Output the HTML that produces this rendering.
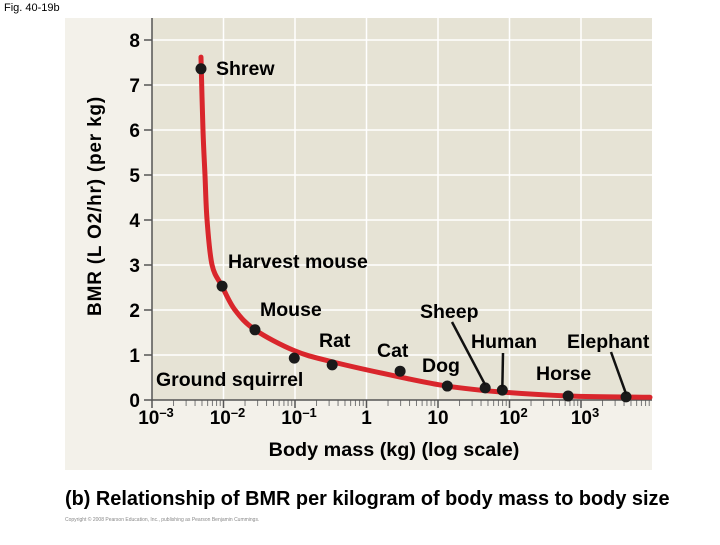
<!DOCTYPE html>
<html><head><meta charset="utf-8"><style>
body{margin:0;background:#fff;width:720px;height:540px;overflow:hidden;font-family:"Liberation Sans",sans-serif}
svg text{font-family:"Liberation Sans",sans-serif}
</style></head><body>
<svg width="720" height="540" viewBox="0 0 720 540">
<text x="4" y="11" font-size="11">Fig. 40-19b</text>
<rect x="65" y="18" width="587" height="452" fill="#f3f1ea"/>
<rect x="152" y="18" width="500" height="382" fill="#e6e3d5"/>
<g id="grid"></g>
<g id="axes"></g>
<g id="curve"></g>
<g id="pts"></g>
<g id="labels" font-weight="bold" font-size="19.5"></g>
<text transform="translate(101,206) rotate(-90)" text-anchor="middle" font-weight="bold" font-size="19" letter-spacing="0.8">BMR (L O2/hr) (per kg)</text>
<text x="394" y="456" text-anchor="middle" font-weight="bold" font-size="19.8">Body mass (kg) (log scale)</text>
<text x="65" y="505" font-weight="bold" font-size="19.9">(b) Relationship of BMR per kilogram of body mass to body size</text>
<text x="65" y="521" font-size="5" fill="#888">Copyright © 2008 Pearson Education, Inc., publishing as Pearson Benjamin Cummings.</text>
</svg>
<script>
const yTicks=[0,1,2,3,4,5,6,7,8];
const xDecades=[-3,-2,-1,0,1,2,3];
const xTickLabels=[["10","–3"],["10","–2"],["10","–1"],["1",""],["10",""],["10","2"],["10","3"]];
const animals=["Shrew","Harvest mouse","Mouse","Ground squirrel","Rat","Cat","Dog","Sheep","Human","Horse","Elephant"];
const logMass=[-2.315,-2.02,-1.56,-1.01,-0.48,0.47,1.13,1.66,1.9,2.82,3.63];
const bmr=[7.36,2.53,1.56,0.93,0.78,0.64,0.31,0.27,0.22,0.09,0.07];
const curveLogMass=[-2.315,-2.287,-2.259,-2.23,-2.16,-2.021,-1.839,-1.559,-1.014,-0.483,0.469,1.126,1.867,2.818,3.965];
const curveBmr=[7.62,6.0,5.0,4.0,3.0,2.53,2.0,1.56,1.1,0.85,0.51,0.31,0.18,0.09,0.06];
const NS="http://www.w3.org/2000/svg";
const X=l=>152+(l+3)*71.5;
const Y=v=>400-v*45;
function mk(tag,attrs,parent){const e=document.createElementNS(NS,tag);for(const k in attrs)e.setAttribute(k,attrs[k]);parent.appendChild(e);return e;}
const grid=document.getElementById('grid'),axes=document.getElementById('axes');
yTicks.forEach(t=>{if(t>0){const g=mk('line',{x1:152,x2:652,y1:Y(t),y2:Y(t),stroke:'#fff','stroke-width':1.5},grid);

}
const tk=mk('line',{x1:144,x2:152,y1:Y(t),y2:Y(t),stroke:'#555','stroke-width':1.5},axes);


const tl=mk('text',{x:140,y:Y(t)+7,'text-anchor':'end','font-weight':'bold','font-size':19},axes);tl.textContent=t;

});
xDecades.forEach((d,i)=>{if(i>0){const g=mk('line',{x1:X(d),x2:X(d),y1:18,y2:400,stroke:'#fff','stroke-width':1.5},grid);

}
const tk=mk('line',{x1:X(d),x2:X(d),y1:400,y2:408,stroke:'#555','stroke-width':1.5},axes);


for(let m=2;m<10;m++){const lx=X(d+Math.log10(m));if(lx>652)break;const mt=mk('line',{x1:lx,x2:lx,y1:400,y2:406,stroke:'#777','stroke-width':1},axes);

}
const lab=xTickLabels[i];const tl=mk('text',{x:X(d)+(lab[1]?4:0),y:424,'text-anchor':'middle','font-weight':'bold','font-size':19},axes);


const t1=mk('tspan',{},tl);t1.textContent=lab[0];
if(lab[1]){const t2=mk('tspan',{'font-size':13,dy:-7},tl);t2.textContent=lab[1];}});
const ax=mk('path',{d:'M152,18 V400 H652',fill:'none',stroke:'#555','stroke-width':1.5},axes);


const P=curveLogMass.map((l,i)=>[X(l),Y(curveBmr[i])]);
let d='M'+P[0][0]+','+P[0][1];
for(let i=0;i<P.length-1;i++){const p0=P[Math.max(0,i-1)],p1=P[i],p2=P[i+1],p3=P[Math.min(P.length-1,i+2)];
d+=` C${p1[0]+(p2[0]-p0[0])/6},${p1[1]+(p2[1]-p0[1])/6} ${p2[0]-(p3[0]-p1[0])/6},${p2[1]-(p3[1]-p1[1])/6} ${p2[0]},${p2[1]}`;}
const c=mk('path',{d:d,fill:'none',stroke:'#d9262c','stroke-width':5,'stroke-linecap':'round'},document.getElementById('curve'));


const pts=document.getElementById('pts');
animals.forEach((a,i)=>{const p=mk('circle',{cx:X(logMass[i]),cy:Y(bmr[i]),r:5.5,fill:'#1a1a1a'},pts);

});
const labels=document.getElementById('labels');
const labPos={"Shrew":[216,75],"Harvest mouse":[228,268],"Mouse":[260,316],"Ground squirrel":[156,386],"Rat":[319,347],"Cat":[377,357],"Dog":[422,372],"Sheep":[420,318],"Human":[471,348],"Horse":[536,380],"Elephant":[567,348]};
animals.forEach(a=>{const t=mk('text',{x:labPos[a][0],y:labPos[a][1]},labels);t.textContent=a;

});
[[452,322,"Sheep"],[503,353,"Human"],[611,352,"Elephant"]].forEach(s=>{const i=animals.indexOf(s[2]);
const l=mk('line',{x1:s[0],y1:s[1],x2:X(logMass[i]),y2:Y(bmr[i])-3,stroke:'#111','stroke-width':2.5},labels);

});
</script>
</body></html>
